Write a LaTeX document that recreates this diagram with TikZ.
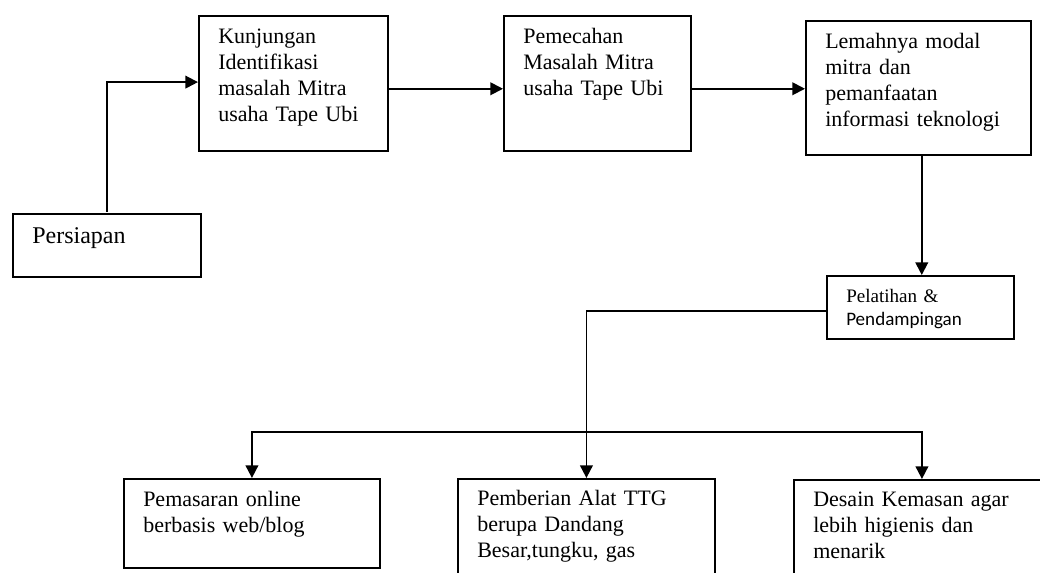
\documentclass[tikz,border=0pt]{standalone}
\usepackage{fontspec}
\setmainfont{Liberation Serif}
\newfontfamily\calibri{Carlito}
\usepackage{tikz}
\usetikzlibrary{arrows.meta}

\begin{document}
\begin{tikzpicture}[
  x=0.75pt, y=-0.75pt,
  >={Triangle[length=9.5pt,width=9.5pt]},
  box/.style={draw, line width=1.4pt, anchor=north west, align=left, inner xsep=14.5pt, inner ysep=0pt,
    font=\fontsize{16.5}{19.5}\selectfont},
  arr/.style={->, line width=1.4pt}
]
\clip (0,0) rectangle (1040,573);

\node[box, text width=112pt, text height=22.5pt, text depth=24.75pt, font=\fontsize{18}{21}\selectfont] (prep) at (12,213) {Persiapan};
\node[box, text width=112.75pt, text height=21pt, text depth=80.25pt] (kunj) at (198,15) {Kunjungan\\Identifikasi\\masalah Mitra\\usaha Tape Ubi};
\node[box, text width=111.25pt, text height=21pt, text depth=80.25pt] (pecah) at (503,15) {Pemecahan\\Masalah Mitra\\usaha Tape Ubi};
\node[box, text width=139.75pt, text height=21pt, text depth=79.5pt] (lemah) at (805,20) {Lemahnya modal\\mitra dan\\pemanfaatan\\informasi teknologi};
\node[box, text width=111.25pt, text height=20.25pt, text depth=27pt, font=\fontsize{14.3}{17.25}\selectfont] (latih) at (826,275) {Pelatihan \&\\{\calibri Pendampingan}};
\node[box, text width=163pt, text height=21pt, text depth=45.75pt] (pasar) at (123,478) {Pemasaran online\\berbasis web/blog};
\node[box, text width=163.75pt, text height=20.25pt, text depth=86.25pt] (alat) at (457,478) {Pemberian Alat TTG\\berupa Dandang\\Besar,tungku, gas};
\node[box, text width=163pt, text height=20.25pt, text depth=86.25pt] (desain) at (793,479) {Desain Kemasan agar\\lebih higienis dan\\menarik};

\coordinate (bar) at (0,432);

\draw[arr] ([yshift=1pt]prep.north) |- ([yshift=1pt]kunj.west);
\draw[arr] ([yshift=-4pt]kunj.east) -- ([yshift=-4pt]pecah.west);
\draw[arr] ([yshift=-4pt]pecah.east) -- ([yshift=-4pt]pecah.east -| lemah.west);
\draw[arr] ([xshift=2.5pt]lemah.south) -- ([xshift=2.5pt]lemah.south |- latih.north);
\draw[arr] ([yshift=-2.5pt]latih.west) -| (alat.north);
\draw[arr, <->] (pasar.north) |- (bar -| desain.north) -- (desain.north);
\end{tikzpicture}
\end{document}
